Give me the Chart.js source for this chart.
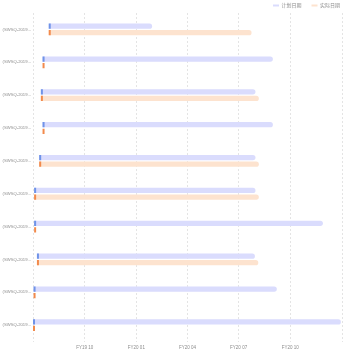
<!DOCTYPE html>
<html>
<head>
<meta charset="utf-8">
<script src="https://cdn.jsdelivr.net/npm/chart.js@4.4.1/dist/chart.umd.min.js"></script>
<style>
  html, body { margin: 0; padding: 0; background: #fff; }
  #wrap { width: 350px; height: 350px; }
</style>
</head>
<body>
<div id="wrap"><canvas id="chart"></canvas></div>
<script>
const categories = [
    "(SWSQ-2019...", "(SWSQ-2019...", "(SWSQ-2019...", "(SWSQ-2019...", "(SWSQ-2019...",
    "(SWSQ-2019...", "(SWSQ-2019...", "(SWSQ-2019...", "(SWSQ-2019...", "(SWSQ-2019..."
];

const planStart = ["2019-07-29", "2019-07-18", "2019-07-15", "2019-07-18", "2019-07-12",
    "2019-07-03", "2019-07-03", "2019-07-08", "2019-07-02", "2019-07-01"];
const planEnd = ["2020-01-29", "2020-08-31", "2020-07-31", "2020-08-31", "2020-07-31",
    "2020-07-31", "2020-11-28", "2020-07-30", "2020-09-07", "2020-12-30"];

const actualStart = ["2019-07-29", "2019-07-18", "2019-07-15", "2019-07-18", "2019-07-12",
    "2019-07-03", "2019-07-03", "2019-07-08", "2019-07-02", "2019-07-01"];
const actualEnd = ["2020-07-24", null, "2020-08-06", null, "2020-08-06",
    "2020-08-06", null, "2020-08-05", null, null];

const tickDates = ["2019-07-01", "2019-10-01", "2020-01-01", "2020-04-01",
    "2020-07-01", "2020-10-01", "2021-01-01"];
const tickLabels = ["", "FY19 10", "FY20 01", "FY20 04", "FY20 07", "FY20 10", ""];

const day = s => Date.parse(s);
const range = (a, b) => a.map((s, i) => (b[i] ? [day(s), day(b[i])] : null));
const mark = a => a.map(s => [day(s), day(s)]);

const FONT = "'Liberation Sans', 'Noto Sans CJK SC', sans-serif";

// legend keeps 10px between items but takes less height
const legendFit = {
    id: "legendFit",
    beforeInit(chart) {
        const fit = chart.legend.fit;
        chart.legend.fit = function () {
            fit.call(this);
            this.height -= 5;
        };
    }
};

new Chart(document.getElementById("chart"), {
    type: "bar",
    data: {
        labels: categories,
        datasets: [
            {
                label: "plan-start",
                data: mark(planStart),
                stack: "plan",
                backgroundColor: "#6f93e8",
                minBarLength: 2
            },
            {
                label: "actual-start",
                data: mark(actualStart),
                stack: "actual",
                backgroundColor: "#f28a4c",
                minBarLength: 2
            },
            {
                label: "计划日期",
                data: range(planStart, planEnd),
                stack: "plan",
                backgroundColor: "#dadcfd",
                borderRadius: 3
            },
            {
                label: "实际日期",
                data: range(actualStart, actualEnd),
                stack: "actual",
                backgroundColor: "#fde3cf",
                borderRadius: 3
            }
        ]
    },
    plugins: [legendFit],
    options: {
        indexAxis: "y",
        responsive: true,
        maintainAspectRatio: false,
        animation: false,
        layout: { padding: { top: -7, right: 0, left: 0, bottom: -3 } },
        datasets: {
            bar: { categoryPercentage: 0.4, barPercentage: 0.8, borderWidth: 0 }
        },
        plugins: {
            tooltip: { enabled: false },
            legend: {
                position: "top",
                align: "end",
                labels: {
                    filter: item => item.datasetIndex >= 2,
                    boxWidth: 6,
                    boxHeight: 2,
                    padding: 10,
                    color: "#8c8c8c",
                    font: { size: 5, family: FONT }
                }
            }
        },
        scales: {
            x: {
                type: "linear",
                stacked: false,
                min: day(tickDates[0]),
                max: day(tickDates[tickDates.length - 1]),
                afterBuildTicks: scale => {
                    scale.ticks = tickDates.map(d => ({ value: day(d) }));
                },
                afterFit: scale => { scale.paddingRight = 8; },
                ticks: {
                    autoSkip: false,
                    maxRotation: 0,
                    padding: 3,
                    color: "#8c8c8c",
                    font: { size: 4.5, family: FONT },
                    callback: (v, i) => tickLabels[i]
                },
                grid: { color: "#e4e4e4", drawTicks: false },
                border: { display: false, dash: [2, 2] }
            },
            y: {
                afterFit: scale => { scale.width = 33; },
                ticks: {
                    padding: 2,
                    color: "#8c8c8c",
                    font: { size: 4.2, family: FONT }
                },
                grid: { display: false, drawTicks: false },
                border: { display: false }
            }
        }
    }
});
</script>
</body>
</html>
